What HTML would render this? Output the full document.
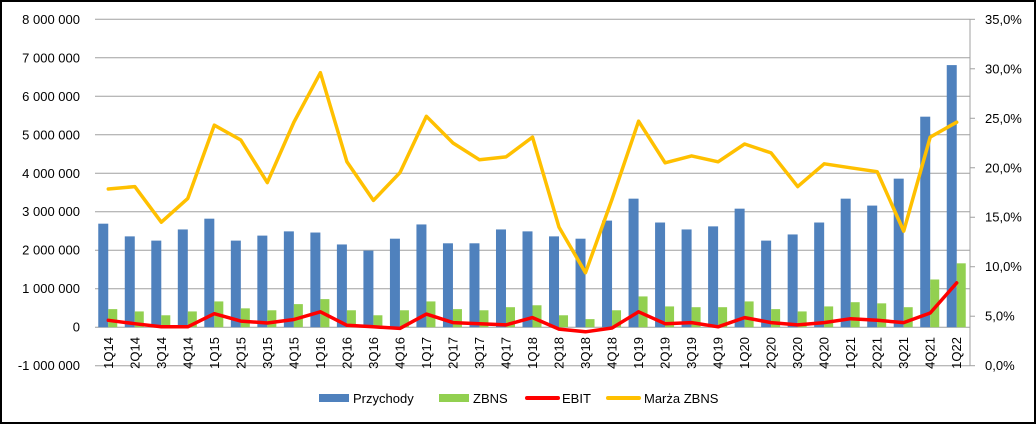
<!DOCTYPE html>
<html><head><meta charset="utf-8"><style>
html,body{margin:0;padding:0;background:#fff}
svg{display:block;font-family:"Liberation Sans",Arial,sans-serif}
</style></head><body>
<svg id="chart" width="1036" height="424" viewBox="0 0 1036 424">
<rect x="1" y="1" width="1034" height="422" fill="#fff" stroke="#000" stroke-width="2"/>
<g id="grid"></g>
<g id="bars"></g>
<g id="lines"></g>
<g id="axes"></g>
<g id="legend">
 <rect x="319" y="394" width="30" height="8" fill="#4f81bd"/>
 <text x="353" y="403" font-size="13" fill="#000">Przychody</text>
 <rect x="439" y="394" width="30" height="8" fill="#92d050"/>
 <text x="473" y="403" font-size="13" fill="#000">ZBNS</text>
 <line x1="527" y1="398" x2="558" y2="398" stroke="#ff0000" stroke-width="4" stroke-linecap="round"/>
 <text x="562" y="403" font-size="13" fill="#000">EBIT</text>
 <line x1="608" y1="398" x2="639" y2="398" stroke="#ffc000" stroke-width="4" stroke-linecap="round"/>
 <text x="644" y="403" font-size="13" fill="#000">Marża ZBNS</text>
</g>
</svg>
<script>
const categories = ["1Q14","2Q14","3Q14","4Q14","1Q15","2Q15","3Q15","4Q15","1Q16","2Q16","3Q16","4Q16","1Q17","2Q17","3Q17","4Q17","1Q18","2Q18","3Q18","4Q18","1Q19","2Q19","3Q19","4Q19","1Q20","2Q20","3Q20","4Q20","1Q21","2Q21","3Q21","4Q21","1Q22"];
const przychody = [2690000,2360000,2250000,2540000,2820000,2250000,2380000,2490000,2460000,2150000,1990000,2300000,2670000,2180000,2180000,2540000,2490000,2360000,2300000,2770000,3340000,2720000,2540000,2620000,3080000,2250000,2410000,2720000,3340000,3160000,3860000,5470000,6810000];
const zbns = [470000,410000,310000,410000,670000,490000,440000,600000,730000,440000,310000,440000,670000,470000,440000,520000,570000,310000,210000,440000,800000,540000,520000,520000,670000,470000,410000,540000,650000,620000,520000,1240000,1660000];
const ebit = [180000,90000,10000,10000,350000,160000,110000,200000,400000,50000,10000,-30000,340000,120000,90000,60000,250000,-50000,-120000,-20000,400000,90000,120000,10000,250000,120000,60000,120000,220000,180000,120000,370000,1150000];
const marza = [17.85,18.1,14.5,16.9,24.3,22.8,18.5,24.6,29.6,20.6,16.7,19.5,25.2,22.5,20.8,21.1,23.1,14.0,9.4,16.8,24.7,20.5,21.2,20.6,22.4,21.5,18.1,20.4,20.0,19.6,13.6,23.1,24.6];
const leftTicks = [-1000000,0,1000000,2000000,3000000,4000000,5000000,6000000,7000000,8000000];
const leftTickLabels = ["-1 000 000","0","1 000 000","2 000 000","3 000 000","4 000 000","5 000 000","6 000 000","7 000 000","8 000 000"];
const rightTicks = [0,5,10,15,20,25,30,35];
const rightTickLabels = ["0,0%","5,0%","10,0%","15,0%","20,0%","25,0%","30,0%","35,0%"];

const NS="http://www.w3.org/2000/svg";
const PL=95, PR=970, PT=19.3, PB=365.7;
const yL=v=>PB-(v+1000000)/9000000*(PB-PT);
const yR=v=>PB-v/35*(PB-PT);
const band=(PR-PL)/categories.length;
const xC=i=>PL+band*(i+0.5);
function mk(tag,attrs,parent){const e=document.createElementNS(NS,tag);for(const k in attrs)e.setAttribute(k,attrs[k]);parent.appendChild(e);return e;}
const grid=document.getElementById('grid'),bars=document.getElementById('bars'),lines=document.getElementById('lines'),axes=document.getElementById('axes');

leftTicks.forEach((t,i)=>{
  const g=mk('line',{x1:PL,x2:PR,y1:yL(t),y2:yL(t),stroke:'#a0a0a0','stroke-width':1},grid);
  
  
  const tx=mk('text',{x:80,y:yL(t)+4.5,'text-anchor':'end','font-size':13,fill:'#000'},axes);
  tx.textContent=leftTickLabels[i];
  
  
});
rightTicks.forEach((t,i)=>{
  const tk=mk('line',{x1:PR,x2:PR+5,y1:yR(t),y2:yR(t),stroke:'#a0a0a0'},axes);
  
  
  const tx=mk('text',{x:985,y:yR(t)+4.5,'font-size':13,fill:'#000'},axes);
  tx.textContent=rightTickLabels[i];
  
  
});
const ra=mk('line',{x1:PR,x2:PR,y1:PT,y2:PB,stroke:'#a0a0a0'},axes);



categories.forEach((c,i)=>{
  const cx=xC(i);
  const b=mk('rect',{x:cx-10,width:10,y:Math.min(yL(przychody[i]),yL(0)),height:Math.abs(yL(0)-yL(przychody[i])),fill:'#4f81bd'},bars);
  
  
  const g=mk('rect',{x:cx,width:9,y:Math.min(yL(zbns[i]),yL(0)),height:Math.abs(yL(0)-yL(zbns[i])),fill:'#92d050'},bars);
  
  
  const tx=mk('text',{x:0,y:0,'text-anchor':'end','font-size':13,fill:'#000',transform:`translate(${cx+4.5},337) rotate(-90)`},axes);
  tx.textContent=c;
  
  
});
const ebitPts=ebit.map((v,i)=>xC(i).toFixed(1)+','+yL(v).toFixed(1)).join(' ');
const el=mk('polyline',{points:ebitPts,fill:'none',stroke:'#ff0000','stroke-width':3.5,'stroke-linejoin':'round','stroke-linecap':'round'},lines);


const mPts=marza.map((v,i)=>xC(i).toFixed(1)+','+yR(v).toFixed(1)).join(' ');
const ml=mk('polyline',{points:mPts,fill:'none',stroke:'#ffc000','stroke-width':3.5,'stroke-linejoin':'round','stroke-linecap':'round'},lines);


</script>
</body></html>
